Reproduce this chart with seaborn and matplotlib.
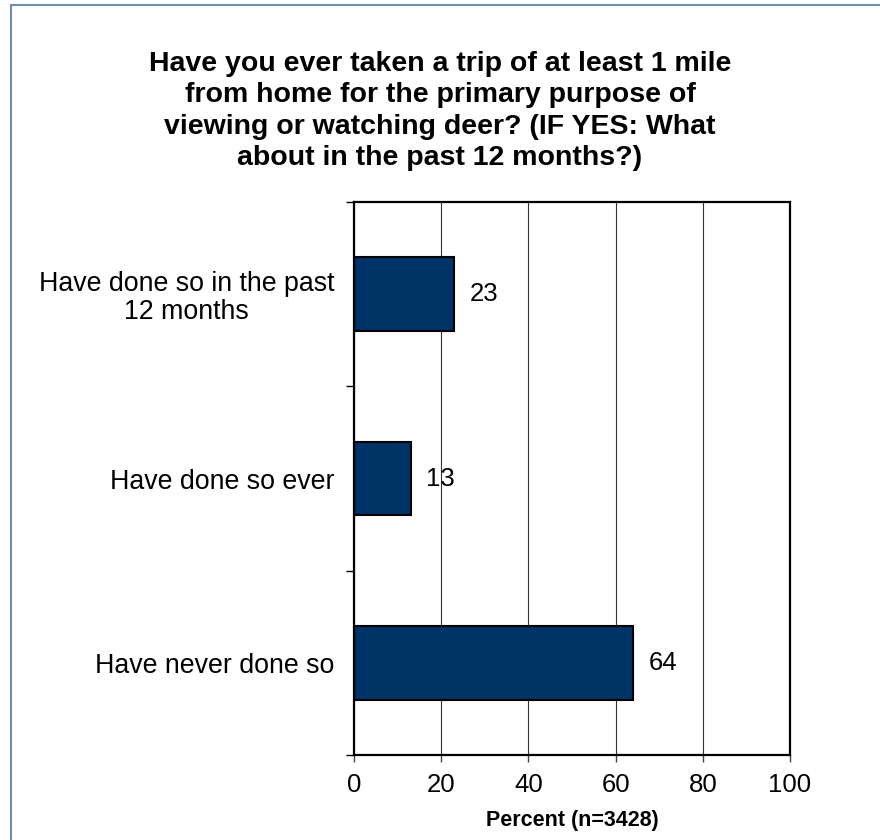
import matplotlib
matplotlib.use("Agg")
import matplotlib.pyplot as plt
import pandas as pd
import seaborn as sns
from matplotlib.patches import Rectangle

categories = ["Have done so in the past\n12 months", "Have done so ever", "Have never done so"]
percent = [23, 13, 64]
x_ticks = [0, 20, 40, 60, 80, 100]
title = ("Have you ever taken a trip of at least 1 mile\n"
         "from home for the primary purpose of\n"
         "viewing or watching deer? (IF YES: What\n"
         "about in the past 12 months?)")
x_label = "Percent (n=3428)"

sns.set_style("white")
plt.rcParams["font.family"] = ["Liberation Sans", "DejaVu Sans"]
plt.rcParams["text.color"] = "black"
plt.rcParams["axes.labelcolor"] = "black"
plt.rcParams["xtick.color"] = "black"
plt.rcParams["ytick.color"] = "black"

df = pd.DataFrame({"category": categories, "percent": percent})

fig = plt.figure(figsize=(8.8, 8.4), dpi=100)
ax = fig.add_axes([354 / 880, 1 - 755 / 840, 436 / 880, 553 / 840])

sns.barplot(data=df, x="percent", y="category", orient="h", color="#003366",
            saturation=1, width=0.4, edgecolor="black", linewidth=1.5, ax=ax)

ax.set_xlim(0, 100)
ax.set_ylim(2.5, -0.5)
ax.set_xticks(x_ticks)
ax.set_xticklabels([str(t) for t in x_ticks], fontsize=18.5)
ax.grid(axis="x", color="#333333", linewidth=0.8)
ax.set_axisbelow(True)

# category labels at bar centres, tick marks at category boundaries
ax.set_yticks(range(len(categories)))
ax.set_yticklabels(categories, fontsize=19.3, ha="right", multialignment="center",
                   linespacing=1.1)
ax.tick_params(axis="y", which="major", length=0, pad=14)
ax.set_yticks([-0.5, 0.5, 1.5, 2.5], minor=True)
ax.tick_params(axis="y", which="minor", length=6, width=1, color="black", left=True)
ax.tick_params(axis="x", length=5, width=1, color="#444444", bottom=True, pad=8)

ax.set_ylabel("")
ax.set_xlabel(x_label, fontsize=15.5, fontweight="bold", labelpad=9)

for side in ["left", "right", "top", "bottom"]:
    ax.spines[side].set_visible(True)
    ax.spines[side].set_color("black")
    ax.spines[side].set_linewidth(1.6)

for i, v in enumerate(percent):
    ax.annotate(str(v), (v, i), xytext=(11, 0), textcoords="offset points",
                va="center", ha="left", fontsize=18.5)

fig.text(0.5, 1 - 111 / 840, title, ha="center", va="center", fontsize=20.5,
         fontweight="bold", linespacing=1.27)

fig.patches.append(Rectangle((11 / 880, -0.1), 1.2, 1 - 5 / 840 + 0.1,
                             transform=fig.transFigure, fill=False,
                             edgecolor="#6f8db5", linewidth=1.5))

fig.savefig("out.png", dpi=100)
